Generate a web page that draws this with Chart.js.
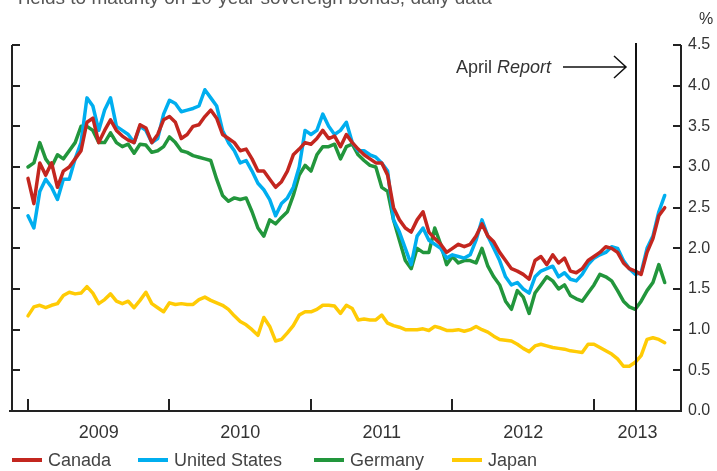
<!DOCTYPE html>
<html>
<head>
<meta charset="utf-8">
<script src="https://cdn.jsdelivr.net/npm/chart.js@4.4.1/dist/chart.umd.min.js"></script>
<style>
  html, body { margin: 0; padding: 0; background: #fff; }
  canvas { display: block; }
</style>
</head>
<body>
<canvas id="yieldChart" width="717" height="471"></canvas>
<script>
// half-monthly readings of the daily series
const dates = [
  '2009-01-01','2009-01-16','2009-02-01','2009-02-16','2009-03-01','2009-03-16','2009-04-01','2009-04-16','2009-05-01','2009-05-16','2009-06-01','2009-06-16',
  '2009-07-01','2009-07-16','2009-08-01','2009-08-16','2009-09-01','2009-09-16','2009-10-01','2009-10-16','2009-11-01','2009-11-16','2009-12-01','2009-12-16',
  '2010-01-01','2010-01-16','2010-02-01','2010-02-16','2010-03-01','2010-03-16','2010-04-01','2010-04-16','2010-05-01','2010-05-16','2010-06-01','2010-06-16',
  '2010-07-01','2010-07-16','2010-08-01','2010-08-16','2010-09-01','2010-09-16','2010-10-01','2010-10-16','2010-11-01','2010-11-16','2010-12-01','2010-12-16',
  '2011-01-01','2011-01-16','2011-02-01','2011-02-16','2011-03-01','2011-03-16','2011-04-01','2011-04-16','2011-05-01','2011-05-16','2011-06-01','2011-06-16',
  '2011-07-01','2011-07-16','2011-08-01','2011-08-16','2011-09-01','2011-09-16','2011-10-01','2011-10-16','2011-11-01','2011-11-16','2011-12-01','2011-12-16',
  '2012-01-01','2012-01-16','2012-02-01','2012-02-16','2012-03-01','2012-03-16','2012-04-01','2012-04-16','2012-05-01','2012-05-16','2012-06-01','2012-06-16',
  '2012-07-01','2012-07-16','2012-08-01','2012-08-16','2012-09-01','2012-09-16','2012-10-01','2012-10-16','2012-11-01','2012-11-16','2012-12-01','2012-12-16',
  '2013-01-01','2013-01-16','2013-02-01','2013-02-16','2013-03-01','2013-03-16','2013-04-01','2013-04-16','2013-05-01','2013-05-16','2013-06-01','2013-06-16',
  '2013-07-01'
];

const canada = [
  2.86, 2.55, 3.05, 2.9, 3.05, 2.75, 2.95, 3.0, 3.1, 3.2,
  3.55, 3.6, 3.3, 3.45, 3.58, 3.45, 3.38, 3.33, 3.3, 3.52,
  3.48, 3.3, 3.4, 3.58, 3.62, 3.55, 3.35, 3.4, 3.5, 3.52,
  3.62, 3.7, 3.6, 3.4, 3.35, 3.3, 3.2, 3.22, 3.1, 2.95,
  2.95, 2.85, 2.75, 2.82, 2.95, 3.15, 3.22, 3.3, 3.28, 3.35,
  3.45, 3.35, 3.38, 3.25, 3.4, 3.3, 3.22, 3.15, 3.1, 3.05,
  3.05, 2.9, 2.5, 2.35, 2.25, 2.2, 2.35, 2.45, 2.2, 2.12,
  2.05, 1.95, 2.0, 2.05, 2.02, 2.05, 2.15, 2.3, 2.15, 2.08,
  1.95, 1.85, 1.75, 1.72, 1.68, 1.62, 1.85, 1.9, 1.8, 1.92,
  1.82, 1.88, 1.72, 1.7, 1.75, 1.85, 1.9, 1.95, 2.02, 2.0,
  1.95, 1.82, 1.75, 1.72, 1.68, 1.95, 2.12, 2.4, 2.5
];
const unitedStates = [
  2.4, 2.25, 2.7, 2.85, 2.75, 2.6, 2.85, 2.85, 3.1, 3.3,
  3.85, 3.75, 3.45, 3.7, 3.85, 3.5, 3.45, 3.4, 3.3, 3.5,
  3.45, 3.3, 3.35, 3.65, 3.82, 3.78, 3.68, 3.7, 3.72, 3.75,
  3.95, 3.85, 3.75, 3.45, 3.3, 3.2, 3.05, 3.08, 2.95, 2.8,
  2.72, 2.6, 2.4, 2.55, 2.62, 2.75, 3.0, 3.45, 3.4, 3.45,
  3.65, 3.5, 3.4, 3.45, 3.55, 3.3, 3.2, 3.2, 3.15, 3.12,
  3.05, 2.95, 2.35, 2.2, 2.0, 1.8, 2.15, 2.25, 2.1, 2.05,
  2.0, 1.88, 1.92, 1.9, 1.88, 1.92, 2.1, 2.35, 2.15, 2.0,
  1.85, 1.65, 1.55, 1.58, 1.5, 1.45, 1.65, 1.72, 1.75, 1.78,
  1.65, 1.7, 1.62, 1.6, 1.68, 1.8, 1.88, 1.92, 1.95, 2.02,
  2.0, 1.85, 1.75, 1.68, 1.7, 2.0, 2.15, 2.45, 2.65
];
const germany = [
  3.0, 3.05, 3.3, 3.1, 3.0, 3.15, 3.1, 3.2, 3.3, 3.5,
  3.5, 3.45, 3.3, 3.3, 3.42, 3.3, 3.25, 3.28, 3.17, 3.28,
  3.27, 3.18, 3.2, 3.25, 3.37, 3.3, 3.2, 3.18, 3.14, 3.12,
  3.1, 3.08, 2.85, 2.65, 2.58, 2.62, 2.6, 2.62, 2.45, 2.25,
  2.15, 2.35, 2.3, 2.38, 2.45, 2.65, 2.9, 3.02, 2.95, 3.15,
  3.25, 3.25, 3.28, 3.1, 3.25, 3.28, 3.15, 3.08, 3.02, 3.0,
  2.75, 2.7, 2.35, 2.1, 1.85, 1.75, 2.0, 1.95, 1.95, 2.25,
  2.05, 1.8, 1.9, 1.82, 1.85, 1.85, 1.82, 2.0, 1.78, 1.65,
  1.55, 1.35, 1.25, 1.48, 1.4, 1.2, 1.45, 1.55, 1.65, 1.6,
  1.5, 1.55, 1.42, 1.38, 1.35, 1.45, 1.55, 1.68, 1.65, 1.6,
  1.48, 1.35, 1.28, 1.25, 1.35, 1.48, 1.58, 1.8, 1.58
];
const japan = [
  1.17, 1.28, 1.3, 1.27, 1.3, 1.32, 1.42, 1.46, 1.44, 1.45,
  1.53, 1.45, 1.32, 1.37, 1.44, 1.35, 1.32, 1.35, 1.27, 1.36,
  1.46, 1.32, 1.27, 1.22, 1.33, 1.31, 1.32, 1.31, 1.31, 1.37,
  1.4, 1.36, 1.33, 1.3, 1.25, 1.17, 1.1, 1.06, 1.0, 0.93,
  1.15, 1.04, 0.86, 0.88, 0.96, 1.05, 1.18, 1.22, 1.22, 1.25,
  1.3, 1.3, 1.29, 1.2, 1.3, 1.26, 1.12, 1.13, 1.12, 1.12,
  1.18, 1.08, 1.05, 1.03, 1.0, 1.0, 1.0, 1.01, 0.99, 1.04,
  1.02, 0.99, 0.99, 1.0, 0.98, 1.0, 1.04, 1.0, 0.97, 0.92,
  0.88, 0.87, 0.86, 0.82, 0.77, 0.73, 0.8, 0.82, 0.8, 0.78,
  0.77, 0.76, 0.74, 0.73, 0.72, 0.82, 0.82, 0.78, 0.74, 0.7,
  0.64, 0.55, 0.55, 0.6, 0.68, 0.88, 0.9, 0.88, 0.84
];

const years = ['2009', '2010', '2011', '2012', '2013'];
const yTicks = [0, 0.5, 1, 1.5, 2, 2.5, 3, 3.5, 4, 4.5];
const reportDate = '2013-04-17';

const FONT = '"Liberation Sans", Arial, Helvetica, sans-serif';

function toYear(s) {
  const [y, m, d] = s.split('-').map(Number);
  return y + (m - 1 + (d - 1) / 30) / 12;
}
function series(values) {
  return values.map((v, i) => ({ x: toYear(dates[i]), y: v }));
}

const frame = {
  id: 'frame',
  afterDatasetsDraw(chart) {
    const { ctx, chartArea: a, scales: { x, y } } = chart;
    ctx.save();

    // title (cut off at the top, as in the source)
    ctx.fillStyle = '#555';
    ctx.font = '19px ' + FONT;
    ctx.textAlign = 'left';
    ctx.textBaseline = 'alphabetic';
    ctx.fillText('Yields to maturity on 10-year sovereign bonds, daily data', 14, 4);

    // axes
    ctx.strokeStyle = '#222';
    ctx.lineWidth = 2;
    ctx.beginPath();
    ctx.moveTo(a.left, a.top); ctx.lineTo(a.left, a.bottom);
    ctx.moveTo(a.right, a.top); ctx.lineTo(a.right, a.bottom + 1);
    ctx.moveTo(a.left - 3, a.bottom); ctx.lineTo(a.right, a.bottom);
    yTicks.forEach(v => {
      const py = Math.round(y.getPixelForValue(v));
      ctx.moveTo(a.left, py); ctx.lineTo(a.left + 8, py);
      ctx.moveTo(a.right - 8, py); ctx.lineTo(a.right, py);
    });
    years.forEach(yr => {
      const px = Math.round(x.getPixelForValue(+yr));
      ctx.moveTo(px, a.bottom); ctx.lineTo(px, a.bottom - 12);
    });
    ctx.stroke();

    // right tick labels
    ctx.fillStyle = '#333';
    ctx.font = '16px ' + FONT;
    ctx.textBaseline = 'middle';
    yTicks.forEach(v => ctx.fillText(v.toFixed(1), a.right + 7, y.getPixelForValue(v)));
    ctx.textAlign = 'center';
    ctx.fillText('%', 706, 20);

    // year labels centred in each year
    ctx.font = '18px ' + FONT;
    years.forEach(yr => {
      const x0 = x.getPixelForValue(+yr);
      const x1 = Math.min(x.getPixelForValue(+yr + 1), a.right);
      ctx.fillText(yr, (x0 + x1) / 2, 433);
    });

    // April Report marker
    const rx = Math.round(x.getPixelForValue(toYear(reportDate)));
    ctx.strokeStyle = '#111';
    ctx.lineWidth = 2;
    ctx.beginPath();
    ctx.moveTo(rx, a.top - 2); ctx.lineTo(rx, a.bottom);
    ctx.stroke();

    const ay = 67;
    ctx.lineWidth = 1.5;
    ctx.beginPath();
    ctx.moveTo(rx - 73, ay); ctx.lineTo(rx - 10, ay);
    ctx.moveTo(rx - 22, ay - 11); ctx.lineTo(rx - 10, ay); ctx.lineTo(rx - 22, ay + 11);
    ctx.stroke();

    ctx.fillStyle = '#333';
    ctx.textBaseline = 'alphabetic';
    ctx.textAlign = 'left';
    ctx.font = '18px ' + FONT;
    const w1 = ctx.measureText('April ').width;
    ctx.font = 'italic 18px ' + FONT;
    const w2 = ctx.measureText('Report').width;
    const tx = rx - 85 - w1 - w2;
    ctx.font = '18px ' + FONT;
    ctx.fillText('April ', tx, 73);
    ctx.font = 'italic 18px ' + FONT;
    ctx.fillText('Report', tx + w1, 73);

    // legend
    const legendX = [12, 138, 314, 452];
    ctx.font = '18px ' + FONT;
    ctx.textBaseline = 'middle';
    chart.data.datasets.forEach((ds, i) => {
      const lx = legendX[i];
      ctx.strokeStyle = ds.borderColor;
      ctx.lineWidth = 4;
      ctx.beginPath();
      ctx.moveTo(lx, 460); ctx.lineTo(lx + 30, 460);
      ctx.stroke();
      ctx.fillStyle = '#444';
      ctx.fillText(ds.label, lx + 36, 461);
    });

    ctx.restore();
  }
};

const chart = new Chart(document.getElementById('yieldChart'), {
  type: 'line',
  data: {
    datasets: [
      { label: 'Canada', data: series(canada), borderColor: '#c3261f' },
      { label: 'United States', data: series(unitedStates), borderColor: '#00aeef' },
      { label: 'Germany', data: series(germany), borderColor: '#22963c' },
      { label: 'Japan', data: series(japan), borderColor: '#ffcb05' }
    ]
  },
  options: {
    responsive: false,
    devicePixelRatio: 1,
    animation: false,
    events: [],
    layout: { padding: { left: 12, right: 36, top: 45, bottom: 60 } },
    elements: {
      line: { borderWidth: 3.5, tension: 0, borderJoinStyle: 'round', borderCapStyle: 'round' },
      point: { radius: 0 }
    },
    scales: {
      x: { type: 'linear', display: false, min: 2008.887, max: 2013.615 },
      y: { display: false, min: 0, max: 4.5 }
    },
    plugins: { legend: { display: false }, tooltip: { enabled: false }, title: { display: false } }
  },
  plugins: [frame]
});
</script>
</body>
</html>
